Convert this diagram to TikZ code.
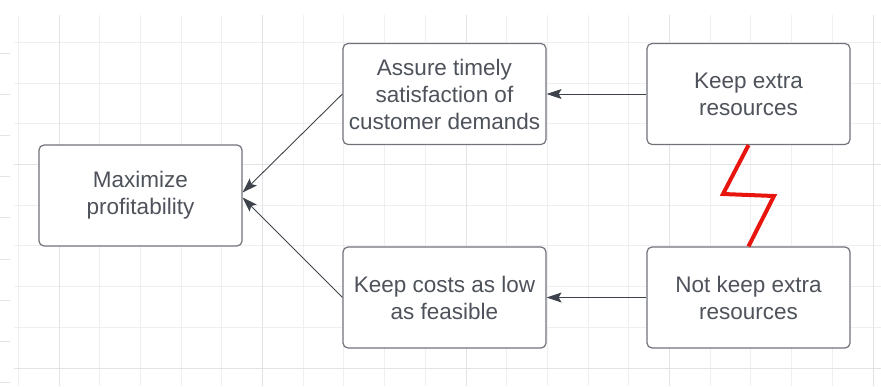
\documentclass[tikz,border=0pt]{standalone}
\usepackage{fontspec}
\setmainfont{Liberation Sans}
\usetikzlibrary{arrows.meta,calc}
\definecolor{gridminor}{HTML}{EFEFF0}
\definecolor{gridmajor}{HTML}{E2E3E5}
\definecolor{boxline}{HTML}{70737A}
\definecolor{txt}{HTML}{4E525A}
\definecolor{conn}{HTML}{3E434B}
\definecolor{bolt}{HTML}{E8150F}
\begin{document}
\begin{tikzpicture}[x=1pt,y=-1pt,
  box/.style={draw=boxline,line width=1.2pt,rounded corners=5pt,fill=white,
    minimum width=203pt,minimum height=101pt,inner sep=0pt,align=center,
    text=txt,font=\fontsize{22.5pt}{27pt}\selectfont},
  link/.style={draw=conn,line width=0.9pt,-{Stealth[length=15pt,width=10pt,inset=3pt]}},
  ]
\useasboundingbox (0,0) rectangle (881,386);
\fill[white] (0,0) rectangle (881,386);
% grid
\foreach \i in {0,...,21}{
  \pgfmathsetmacro{\gx}{18.3+40.7*\i}
  \draw[gridminor,line width=1pt] (\gx,15) -- (\gx,386);
}
\foreach \i in {0,...,8}{
  \pgfmathsetmacro{\gy}{42.4+40.7*\i}
  \draw[gridminor,line width=1pt] (14,\gy) -- (881,\gy);
}
\foreach \i in {0,...,4}{
  \pgfmathsetmacro{\gx}{59+203.5*\i}
  \draw[gridmajor,line width=1pt] (\gx,15) -- (\gx,386);
}
\foreach \gy in {164.5,368}{
  \draw[gridmajor,line width=1pt] (14,\gy) -- (881,\gy);
}
\foreach \i in {0,...,8}{
  \pgfmathsetmacro{\ty}{53+41.2*\i}
  \draw[gridmajor,line width=1pt] (0,\ty) -- (10,\ty);
}
% boxes
\node[box] (max)  at (140.5,195.5) {Maximize\\profitability};
\node[box] (assure) at (444.5,94) {Assure timely\\satisfaction of\\customer demands};
\node[box] (keep) at (748.5,94) {Keep extra\\resources};
\node[box] (costs) at (444.5,297.5) {Keep costs as low\\as feasible};
\node[box] (notkeep) at (748.5,297.5) {Not keep extra\\resources};
% connectors
\draw[link] (keep.west) -- (assure.east);
\draw[link] (notkeep.west) -- (costs.east);
\draw[link] (assure.west) -- ($(max.east)+(0,-3)$);
\draw[link] (costs.west) -- ($(max.east)+(0,2)$);
% conflict bolt
\coordinate (b1) at (723,194);
\coordinate (b2) at (774,196);
\draw[bolt,line width=4pt,line join=miter] (keep.south) -- (b1) -- (b2) -- (notkeep.north);
\end{tikzpicture}
\end{document}
